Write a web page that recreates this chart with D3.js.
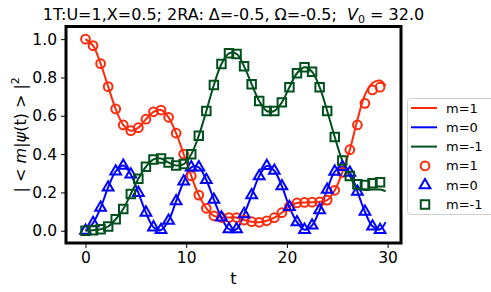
<!DOCTYPE html>
<html>
<head>
<meta charset="utf-8">
<script src="https://cdn.jsdelivr.net/npm/d3@7"></script>
<style>
  body { margin: 0; background: #fff; }
  text { font-family: "DejaVu Sans", sans-serif; fill: #000; }
</style>
</head>
<body>
<div id="chart"></div>
<script>
// marker samples, step 0.75
var tMarks = d3.range(40).map(i => i * 0.75);
var redMarks = [1.00, 0.966, 0.872, 0.752, 0.636, 0.552, 0.522, 0.538, 0.582, 0.621,
  0.630, 0.592, 0.509, 0.400, 0.286, 0.186, 0.117, 0.078, 0.069, 0.069,
  0.069, 0.056, 0.047, 0.044, 0.052, 0.068, 0.094, 0.127, 0.145, 0.148,
  0.149, 0.151, 0.160, 0.211, 0.304, 0.423, 0.552, 0.665, 0.735, 0.749];
var blueMarks = [0.000, 0.040, 0.120, 0.226, 0.310, 0.340, 0.294, 0.198, 0.095, 0.018,
  0.004, 0.053, 0.154, 0.257, 0.331, 0.331, 0.265, 0.162, 0.069, 0.008,
  0.008, 0.087, 0.186, 0.285, 0.338, 0.313, 0.233, 0.124, 0.045, 0.005,
  0.028, 0.108, 0.214, 0.309, 0.333, 0.303, 0.204, 0.099, 0.023, 0.004];
var greenMarks = [0.000, 0.003, 0.008, 0.022, 0.060, 0.113, 0.192, 0.271, 0.334, 0.372,
  0.377, 0.356, 0.341, 0.348, 0.399, 0.496, 0.625, 0.761, 0.870, 0.926,
  0.923, 0.858, 0.765, 0.677, 0.625, 0.625, 0.670, 0.749, 0.822, 0.853,
  0.830, 0.749, 0.625, 0.489, 0.366, 0.286, 0.243, 0.239, 0.248, 0.253];

// continuous curves (same grid plus the last time point)
var tLine = tMarks.concat([29.8]);
var redLine = redMarks.slice(0, 35).concat([0.423, 0.578, 0.709, 0.771, 0.784, 0.756]);
var blueLine = blueMarks.slice(0, 39).concat([0.008, 0.045]);
var greenLine = greenMarks.slice(0, 35).concat([0.286, 0.221, 0.213, 0.215, 0.215, 0.206]);

var xTicks = [0, 10, 20, 30];
var yTicks = [0.0, 0.2, 0.4, 0.6, 0.8, 1.0];
var legendLabels = ["m=1", "m=0", "m=-1"];

var red = "#ff2a0a", blue = "#0000ff", green = "#00501e";

var W = 491, H = 292;
var padL = 66, padR = 401, padT = 26.5, padB = 243;

var x = d3.scaleLinear().domain([-1.936, 31.33]).range([padL, padR]);
var y = d3.scaleLinear().domain([-0.064, 1.066]).range([padB, padT]);

var svg = d3.select("#chart").append("svg")
    .attr("width", W)
    .attr("height", H);

svg.append("defs").append("clipPath").attr("id", "clip")
  .append("rect")
    .attr("x", padL).attr("y", padT)
    .attr("width", padR - padL).attr("height", padB - padT);

// axes
var xAxis = svg.append("g")
    .attr("transform", "translate(0," + padB + ")")
    .call(d3.axisBottom(x).tickValues(xTicks).tickFormat(d3.format("d")).tickSize(5).tickPadding(4));
var yAxis = svg.append("g")
    .attr("transform", "translate(" + padL + ",0)")
    .call(d3.axisLeft(y).tickValues(yTicks).tickFormat(d3.format(".1f")).tickSize(5).tickPadding(4));
[xAxis, yAxis].forEach(a => {
  a.select(".domain").remove();
  a.selectAll("text").style("font-size", "15.5px").style("font-family", "DejaVu Sans");
  a.selectAll("line").attr("stroke", "#000").attr("stroke-width", 1);
});

var plot = svg.append("g").attr("clip-path", "url(#clip)");

var series = [
  {color: red, line: redLine, marks: redMarks, shape: d3.symbolCircle},
  {color: blue, line: blueLine, marks: blueMarks, shape: d3.symbolTriangle},
  {color: green, line: greenLine, marks: greenMarks, shape: d3.symbolSquare}
];

var lineGen = d3.line().curve(d3.curveCatmullRom.alpha(0.5));

series.forEach(s => {
  plot.append("path")
      .attr("d", lineGen(tLine.map((t, i) => [x(t), y(s.line[i])])))
      .attr("fill", "none")
      .attr("stroke", s.color)
      .attr("stroke-width", 2);
});

function symbolPath(shape) {
  if (shape === d3.symbolCircle) return d3.symbol().type(shape).size(60)();
  if (shape === d3.symbolTriangle) return d3.symbol().type(shape).size(50)();
  return d3.symbol().type(shape).size(72)();
}

series.forEach(s => {
  plot.selectAll(null)
      .data(tMarks)
      .enter()
      .append("path")
      .attr("d", symbolPath(s.shape))
      .attr("transform", (t, i) => "translate(" + x(t) + "," + y(s.marks[i]) + ")")
      .attr("fill", "none")
      .attr("stroke", s.color)
      .attr("stroke-width", 2);
});

// frame
svg.append("rect")
    .attr("x", padL).attr("y", padT)
    .attr("width", padR - padL).attr("height", padB - padT)
    .attr("fill", "none")
    .attr("stroke", "#000")
    .attr("stroke-width", 3);

// title
var title = svg.append("text")
    .attr("x", (padL + padR) / 2)
    .attr("y", 20)
    .attr("text-anchor", "middle")
    .style("white-space", "pre")
    .style("font-size", "16px");
title.append("tspan").text("1T:U=1,X=0.5; 2RA: \u0394=-0.5, \u03A9=-0.5;  ");
title.append("tspan").style("font-style", "italic").text("V");
title.append("tspan").attr("dy", 3).style("font-size", "11px").text("0");
title.append("tspan").attr("dy", -3).text(" = 32.0");

// axis labels
svg.append("text")
    .attr("x", (padL + padR) / 2)
    .attr("y", 284)
    .attr("text-anchor", "middle")
    .style("font-size", "16px")
    .text("t");

var yl = svg.append("text")
    .attr("transform", "translate(26," + ((padT + padB) / 2) + ") rotate(-90)")
    .attr("text-anchor", "middle")
    .style("font-size", "16px");
yl.append("tspan").text("| < ");
yl.append("tspan").style("font-style", "italic").text("m");
yl.append("tspan").text("|");
yl.append("tspan").style("font-style", "italic").text("\u03C8");
yl.append("tspan").text("(t) > |");
yl.append("tspan").attr("dy", -7).style("font-size", "11px").text("2");

// legend
var lg = svg.append("g");
lg.append("rect")
    .attr("x", 407.5).attr("y", 98.5)
    .attr("width", 100).attr("height", 116)
    .attr("rx", 3)
    .attr("fill", "#fff")
    .attr("stroke", "#d0d0d0")
    .attr("stroke-width", 1);

var rowY = d3.scaleLinear().domain([0, 5]).range([108, 204.5]);
var rows = legendLabels.map((l, i) => ({label: l, s: series[i], kind: "line"}))
  .concat(legendLabels.map((l, i) => ({label: l, s: series[i], kind: "mark"})));

rows.forEach((r, i) => {
  var yy = rowY(i);
  if (r.kind === "line") {
    lg.append("line")
        .attr("x1", 411).attr("x2", 437)
        .attr("y1", yy).attr("y2", yy)
        .attr("stroke", r.s.color).attr("stroke-width", 2);
  } else {
    lg.append("path")
        .attr("d", symbolPath(r.s.shape))
        .attr("transform", "translate(425," + yy + ")")
        .attr("fill", "none")
        .attr("stroke", r.s.color)
        .attr("stroke-width", 2);
  }
  lg.append("text")
      .attr("x", 446)
      .attr("y", yy + 4.5)
      .style("font-size", "13px")
      .text(r.label);
});
</script>
</body>
</html>
